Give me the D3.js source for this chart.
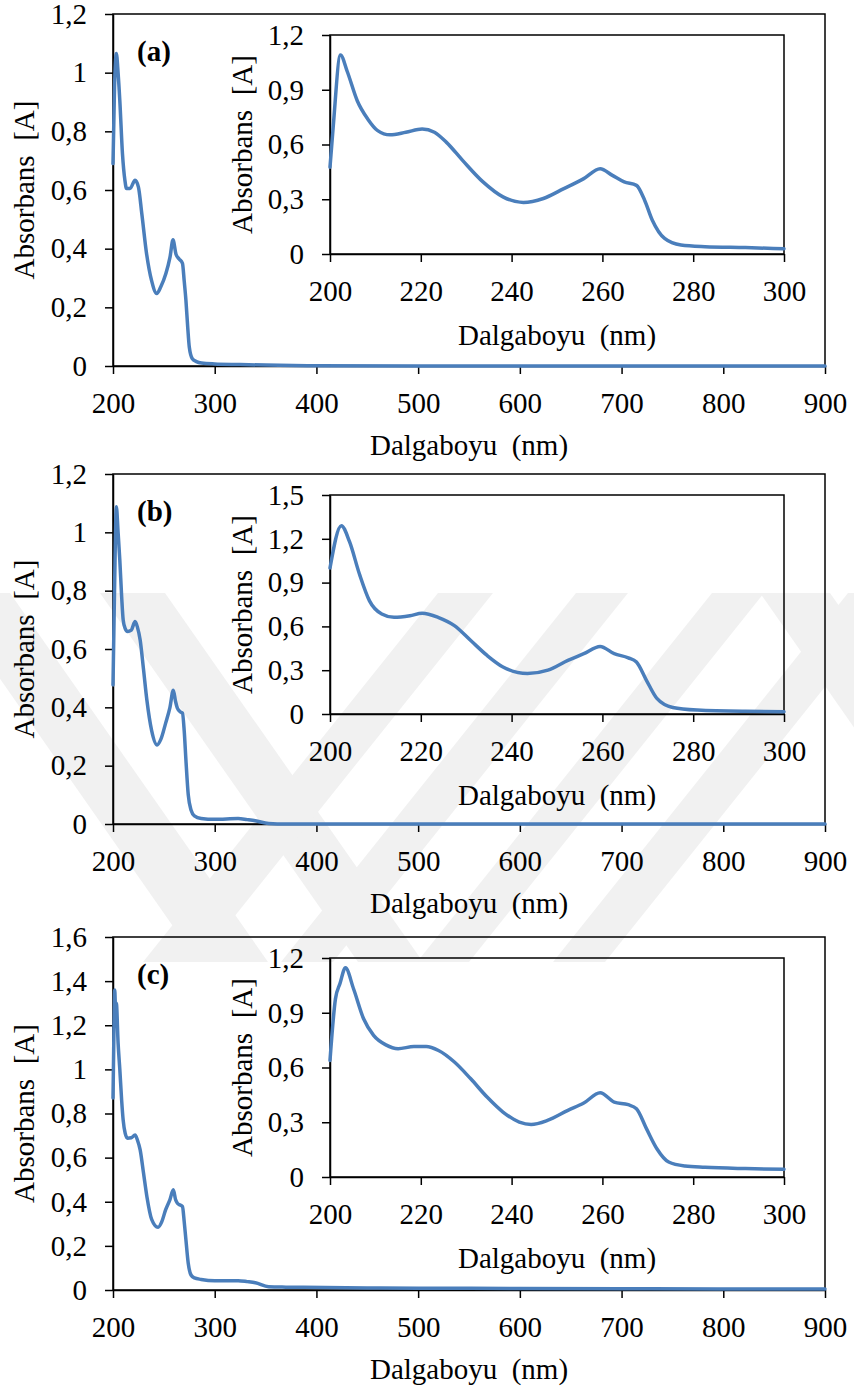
<!DOCTYPE html>
<html>
<head>
<meta charset="utf-8">
<script src="https://cdn.jsdelivr.net/npm/d3@7"></script>
<style>
  body { margin: 0; background: #fff; }
</style>
</head>
<body>
<div id="chart"></div>
<script>
// ---- data ----
var mainXTicks = [200, 300, 400, 500, 600, 700, 800, 900];
var insetXTicks = [200, 220, 240, 260, 280, 300];
var yTicksMainA = [0, 0.2, 0.4, 0.6, 0.8, 1, 1.2];
var yTicksMainB = [0, 0.2, 0.4, 0.6, 0.8, 1, 1.2];
var yTicksMainC = [0, 0.2, 0.4, 0.6, 0.8, 1, 1.2, 1.4, 1.6];
var yTicksInsetA = [0, 0.3, 0.6, 0.9, 1.2];
var yTicksInsetB = [0, 0.3, 0.6, 0.9, 1.2, 1.5];
var yTicksInsetC = [0, 0.3, 0.6, 0.9, 1.2];

// panel (a) full range
var aMainX = [200, 201.5, 203.3, 205, 206.7, 209.3, 211.7, 213.3, 216.7, 221.7, 225, 228.3, 233, 238, 243, 247, 252, 256, 259, 262, 265, 268.3, 270, 271.7, 273.5, 275, 278, 282, 287, 300, 325, 350, 400, 500, 600, 700, 800, 900];
var aMainY = [0.69, 0.95, 1.065, 1.0, 0.905, 0.724, 0.633, 0.605, 0.605, 0.633, 0.61, 0.52, 0.383, 0.29, 0.247, 0.27, 0.315, 0.37, 0.43, 0.38, 0.365, 0.35, 0.29, 0.224, 0.13, 0.065, 0.025, 0.015, 0.01, 0.007, 0.005, 0.003, 0.001, 0, 0, 0, 0, 0];
// panel (a) inset
var aInsetX = [200, 200.7, 202.3, 203.8, 206, 208.3, 210.5, 213.2, 216.7, 220.3, 223, 225.6, 229.2, 233.7, 238.1, 242.6, 247, 251.5, 255.9, 259.5, 262.2, 264.8, 267.5, 269.3, 271, 273.7, 277.3, 282.6, 291.5, 300];
var aInsetY = [0.476, 0.695, 1.09, 1.0, 0.84, 0.74, 0.676, 0.653, 0.667, 0.685, 0.667, 0.613, 0.513, 0.395, 0.313, 0.282, 0.304, 0.358, 0.413, 0.467, 0.431, 0.395, 0.376, 0.295, 0.185, 0.085, 0.049, 0.04, 0.035, 0.029];

// panel (b) full range
var bMainX = [200, 201.5, 203.3, 205, 206.7, 208.5, 210, 212, 214.3, 218, 221.7, 224, 226.7, 230, 233.3, 238, 243.3, 247, 251.7, 256, 259.3, 261.5, 263.3, 266, 268.3, 270, 271.7, 274, 276.7, 280, 286.7, 300, 323, 332, 340, 353, 370, 400, 500, 600, 700, 800, 900];
var bMainY = [0.477, 0.8, 1.088, 1.0, 0.905, 0.78, 0.70, 0.67, 0.66, 0.665, 0.694, 0.675, 0.631, 0.53, 0.425, 0.32, 0.271, 0.29, 0.345, 0.4, 0.459, 0.42, 0.397, 0.385, 0.38, 0.32, 0.219, 0.1, 0.048, 0.028, 0.019, 0.016, 0.019, 0.015, 0.011, 0.002, 0, 0, 0, 0, 0, 0, 0];
// panel (b) inset
var bInsetX = [200, 202.5, 204.3, 206.5, 208.7, 211.4, 214.1, 217.6, 220.3, 223.8, 227.4, 231, 234.6, 238.1, 243.5, 248, 252.4, 255.9, 259.5, 262.6, 265.7, 267.5, 269.7, 272, 275.5, 280.9, 291.5, 300];
var bInsetY = [1.0, 1.29, 1.18, 0.957, 0.775, 0.685, 0.662, 0.673, 0.69, 0.662, 0.605, 0.503, 0.401, 0.322, 0.277, 0.3, 0.367, 0.413, 0.463, 0.413, 0.385, 0.356, 0.231, 0.107, 0.045, 0.027, 0.018, 0.016];

// panel (c) full range
var cMainX = [200, 201, 201.7, 202.5, 203.3, 205, 206.7, 208.5, 210, 212, 214.3, 218, 221.7, 224, 226.7, 230, 233.3, 238, 244.3, 248, 251.7, 256, 259.3, 261.5, 263.3, 266, 268.3, 270, 271.7, 274, 276.7, 280, 286.7, 300, 323, 332, 340, 353, 370, 387, 450, 500, 600, 700, 800, 900];
var cMainY = [0.87, 1.2, 1.36, 1.28, 1.30, 1.12, 1.0, 0.86, 0.77, 0.71, 0.688, 0.69, 0.703, 0.68, 0.635, 0.53, 0.424, 0.32, 0.284, 0.31, 0.363, 0.41, 0.454, 0.41, 0.393, 0.385, 0.378, 0.31, 0.227, 0.12, 0.068, 0.055, 0.048, 0.042, 0.042, 0.038, 0.033, 0.015, 0.013, 0.012, 0.009, 0.008, 0.007, 0.006, 0.005, 0.005];
// panel (c) inset
var cInsetX = [200, 201.2, 202.2, 203.4, 205.2, 207.4, 209.6, 212.3, 215, 218.5, 221.2, 223.9, 227.4, 231, 234.6, 238.1, 241.7, 244.3, 247.9, 252.4, 255.9, 259.5, 262.6, 265.7, 267.5, 269.7, 272, 274.6, 278.2, 282.6, 291.5, 300];
var cInsetY = [0.639, 0.976, 1.06, 1.146, 1.03, 0.867, 0.776, 0.724, 0.703, 0.715, 0.715, 0.693, 0.63, 0.538, 0.438, 0.356, 0.301, 0.288, 0.31, 0.365, 0.405, 0.462, 0.41, 0.396, 0.374, 0.265, 0.155, 0.082, 0.06, 0.053, 0.046, 0.042];

var panelLabels = ["(a)", "(b)", "(c)"];
var xTitle = "Dalgaboyu\u00a0 (nm)";
var yTitle = "Absorbans\u00a0 [A]";

// ---- layout ----
var svgWidth = 854, svgHeight = 1393;
var lineColor = "#4a7ebb";
var fontSize = 29;

var svg = d3.select("#chart").append("svg")
  .attr("width", svgWidth)
  .attr("height", svgHeight);

// serif text like the original
function serifText(sel) {
  return sel.style("font-family", "'Liberation Serif'")
    .attr("font-size", fontSize)
    .attr("fill", "#000");
}

// faint watermark behind the charts
var wm = svg.append("g").attr("fill", "#f1f1f1");
function stripe(x0, w, dx, y0, y1) {
  return [[x0, y0], [x0 + w, y0], [x0 + w + dx, y1], [x0 + dx, y1]].join(" ");
}
[[-60, 70, 258], [100, 65, 258], [760, 70, 258]].forEach(function(s) {
  wm.append("polygon").attr("points", stripe(s[0], s[1], s[2], 593, 962));
});
[[438, 55, -295], [576, 52, -295], [712, 52, -295], [848, 52, -295]].forEach(function(s) {
  wm.append("polygon").attr("points", stripe(s[0], s[1], s[2], 593, 962));
});

var fmt = function(v) { return String(+v.toFixed(1)).replace(".", ","); };

var panels = [
  {label: panelLabels[0], top: 14, bottom: 366, yMax: 1.2, yTicks: yTicksMainA, x: aMainX, y: aMainY,
   insetYMax: 1.2, insetYTicks: yTicksInsetA, ix: aInsetX, iy: aInsetY},
  {label: panelLabels[1], top: 474, bottom: 824, yMax: 1.2, yTicks: yTicksMainB, x: bMainX, y: bMainY,
   insetYMax: 1.5, insetYTicks: yTicksInsetB, ix: bInsetX, iy: bInsetY},
  {label: panelLabels[2], top: 937, bottom: 1290, yMax: 1.6, yTicks: yTicksMainC, x: cMainX, y: cMainY,
   insetYMax: 1.2, insetYTicks: yTicksInsetC, ix: cInsetX, iy: cInsetY}
];

function drawChart(g, xs, ys, xTicks, yTicks, xv, yv, titleY, ylabelX) {
  var x0 = xs.range()[0], x1 = xs.range()[1];
  var y0 = ys.range()[0], y1 = ys.range()[1];

  // box
  g.append("rect")
    .attr("x", x0).attr("y", y1)
    .attr("width", x1 - x0).attr("height", y0 - y1)
    .attr("fill", "none").attr("stroke", "#000").attr("stroke-width", 1.5);

  var xAxis = g.append("g")
    .attr("transform", "translate(0," + y0 + ")")
    .call(d3.axisBottom(xs).tickValues(xTicks).tickSize(8).tickSizeOuter(0).tickPadding(18).tickFormat(d3.format("d")));
  var yAxis = g.append("g")
    .attr("transform", "translate(" + x0 + ",0)")
    .call(d3.axisLeft(ys).tickValues(yTicks).tickSize(8).tickSizeOuter(0).tickPadding(18).tickFormat(fmt));

  [xAxis, yAxis].forEach(function(a) {
    a.attr("font-family", null).attr("font-size", null);
    a.selectAll("path.domain").attr("stroke", "#000").attr("stroke-width", 1.5);
    a.selectAll(".tick line").attr("stroke", "#000").attr("stroke-width", 1.5);
    serifText(a.selectAll("text"));
  });

  var pts = xv.map(function(d, i) { return [d, yv[i]]; });
  g.append("path")
    .datum(pts)
    .attr("fill", "none")
    .attr("stroke", lineColor)
    .attr("stroke-width", 3.5)
    .attr("stroke-linejoin", "round")
    .attr("stroke-linecap", "round")
    .attr("d", d3.line()
      .x(function(d) { return xs(d[0]); })
      .y(function(d) { return ys(d[1]); })
      .curve(d3.curveMonotoneX));

  serifText(g.append("text"))
    .attr("x", (x0 + x1) / 2).attr("y", titleY)
    .attr("text-anchor", "middle")
    .text(xTitle);

  serifText(g.append("text"))
    .attr("transform", "translate(" + ylabelX + "," + ((y0 + y1) / 2) + ") rotate(-90)")
    .attr("text-anchor", "middle")
    .text(yTitle);
}

panels.forEach(function(p) {
  var g = svg.append("g");

  var xMain = d3.scaleLinear().domain([200, 900]).range([113, 825]);
  var yMain = d3.scaleLinear().domain([0, p.yMax]).range([p.bottom, p.top]);
  drawChart(g, xMain, yMain, mainXTicks, p.yTicks, p.x, p.y, p.bottom + 89, 34);

  var iTop = p.top + 21, iBottom = p.top + 240;
  var xIn = d3.scaleLinear().domain([200, 300]).range([330, 784]);
  var yIn = d3.scaleLinear().domain([0, p.insetYMax]).range([iBottom, iTop]);
  drawChart(g, xIn, yIn, insetXTicks, p.insetYTicks, p.ix, p.iy, iBottom + 91, 252);

  serifText(g.append("text"))
    .attr("x", 137).attr("y", p.top + 47)
    .attr("font-weight", "bold")
    .text(p.label);
});
</script>
</body>
</html>
